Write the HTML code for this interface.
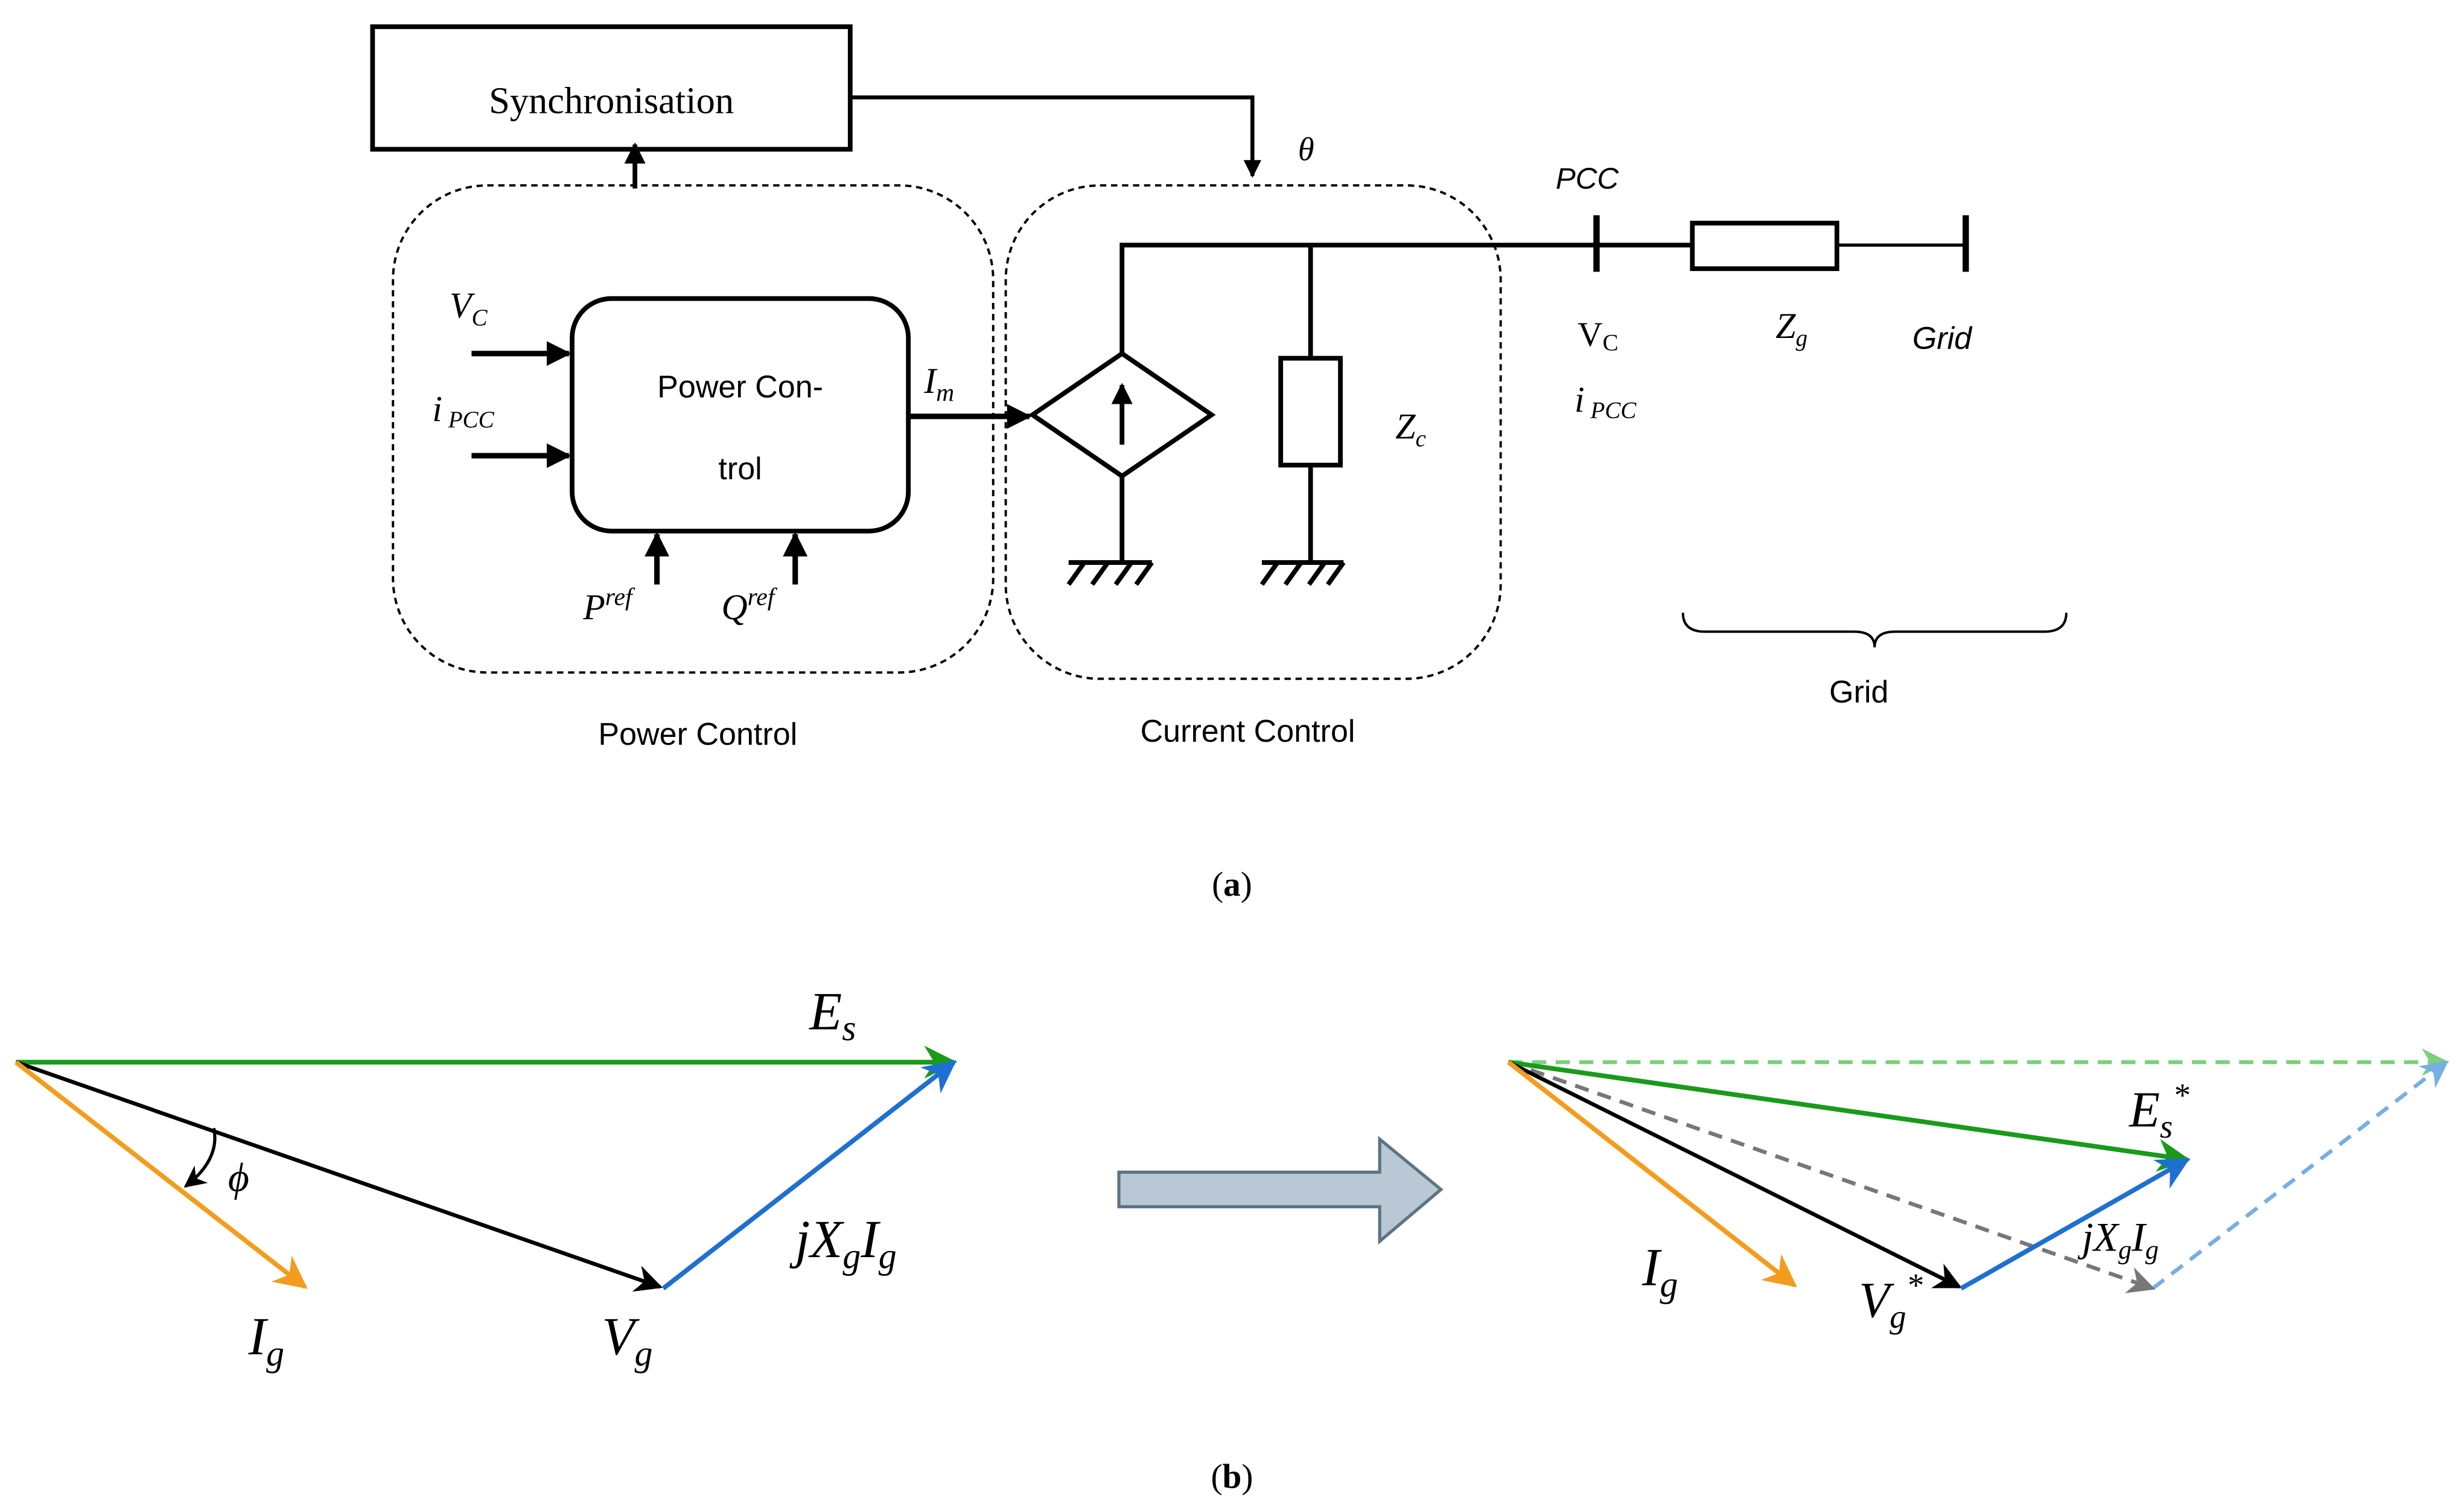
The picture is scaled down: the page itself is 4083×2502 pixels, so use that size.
<!DOCTYPE html>
<html><head><meta charset="utf-8"><style>
html,body{margin:0;padding:0;background:#fff}
svg{display:block}
.s{font-family:"Liberation Sans",sans-serif}
.r{font-family:"Liberation Serif",serif}
</style></head><body>
<svg width="4083" height="2502" viewBox="0 0 1568 961" xmlns="http://www.w3.org/2000/svg">
<defs>
<marker id="ab" viewBox="0 0 10 10" refX="9" refY="5" markerWidth="4.5" markerHeight="4.5" orient="auto"><path d="M0,0L10,5L0,10z" fill="#000"/></marker>
<marker id="vg" viewBox="0 0 10 10" refX="9" refY="5" markerWidth="7" markerHeight="7" orient="auto"><path d="M0,0L10,5L0,10L3,5z" fill="#1a9a1a"/></marker>
<marker id="vk" viewBox="0 0 10 10" refX="9" refY="5" markerWidth="7" markerHeight="7" orient="auto"><path d="M0,0L10,5L0,10L3,5z" fill="#000"/></marker>
<marker id="vo" viewBox="0 0 10 10" refX="9" refY="5" markerWidth="7" markerHeight="7" orient="auto"><path d="M0,0L10,5L0,10L3,5z" fill="#f39c1e"/></marker>
<marker id="vb" viewBox="0 0 10 10" refX="9" refY="5" markerWidth="7" markerHeight="7" orient="auto"><path d="M0,0L10,5L0,10L3,5z" fill="#1f6fd0"/></marker>
<marker id="vlg" viewBox="0 0 10 10" refX="9" refY="5" markerWidth="7" markerHeight="7" orient="auto"><path d="M0,0L10,5L0,10L3,5z" fill="#7ccf7c"/></marker>
<marker id="vlb" viewBox="0 0 10 10" refX="9" refY="5" markerWidth="7" markerHeight="7" orient="auto"><path d="M0,0L10,5L0,10L3,5z" fill="#78aee6"/></marker>
<marker id="vgr" viewBox="0 0 10 10" refX="9" refY="5" markerWidth="7" markerHeight="7" orient="auto"><path d="M0,0L10,5L0,10L3,5z" fill="#777"/></marker>
</defs>
<g fill="none" stroke="#000">
<rect x="237" y="17" width="304" height="78" stroke-width="3"/>
<polyline points="541,62 797,62 797,112" stroke-width="2.5" marker-end="url(#ab)"/>
<line x1="404" y1="120" x2="404" y2="92" stroke-width="3" marker-end="url(#ab)"/>
<rect x="250" y="118" width="382" height="310" rx="60" stroke-width="1.5" stroke-dasharray="4,3"/>
<rect x="640" y="118" width="315" height="314" rx="60" stroke-width="1.5" stroke-dasharray="4,3"/>
<rect x="364" y="190" width="214" height="148" rx="25" stroke-width="3"/>
<line x1="300" y1="225" x2="362" y2="225" stroke-width="3.5" marker-end="url(#ab)"/>
<line x1="300" y1="290" x2="362" y2="290" stroke-width="3.5" marker-end="url(#ab)"/>
<line x1="418" y1="372" x2="418" y2="340" stroke-width="3.5" marker-end="url(#ab)"/>
<line x1="506" y1="372" x2="506" y2="340" stroke-width="3.5" marker-end="url(#ab)"/>
<line x1="578" y1="265" x2="655" y2="265" stroke-width="3.5" marker-end="url(#ab)"/>
<polygon points="714,225 771,264 714,303 657,264" stroke-width="3"/>
<line x1="714" y1="283" x2="714" y2="245" stroke-width="3" marker-end="url(#ab)"/>
<polyline points="714,225 714,156 1077,156" stroke-width="3"/>
<line x1="834" y1="156" x2="834" y2="228" stroke-width="3"/>
<rect x="815" y="228" width="38" height="68" stroke-width="3"/>
<line x1="834" y1="296" x2="834" y2="358" stroke-width="3"/>
<line x1="714" y1="303" x2="714" y2="358" stroke-width="3"/>
<g stroke-width="3">
<line x1="680" y1="358" x2="733" y2="358"/><line x1="690" y1="358" x2="680" y2="372"/><line x1="705" y1="358" x2="695" y2="372"/><line x1="720" y1="358" x2="710" y2="372"/><line x1="733" y1="358" x2="723" y2="372"/>
<line x1="803" y1="358" x2="855" y2="358"/><line x1="813" y1="358" x2="803" y2="372"/><line x1="828" y1="358" x2="818" y2="372"/><line x1="843" y1="358" x2="833" y2="372"/><line x1="855" y1="358" x2="845" y2="372"/>
</g>
<line x1="1016" y1="137" x2="1016" y2="173" stroke-width="4"/>
<rect x="1077" y="142" width="92" height="29" stroke-width="3"/>
<line x1="1169" y1="156" x2="1251" y2="156" stroke-width="2"/>
<line x1="1251" y1="137" x2="1251" y2="173" stroke-width="4"/>
<path d="M1071,390 Q1071,402 1085,402 L1180,402 Q1193,402 1193,412 Q1193,402 1206,402 L1301,402 Q1315,402 1315,390" stroke-width="1.5"/>
</g>
<g fill="#000">
<text x="389" y="72" class="r" font-size="24" text-anchor="middle">Synchronisation</text>
<text x="826" y="102" class="r" font-size="21" font-style="italic">θ</text>
<text x="471" y="253" class="s" font-size="20" text-anchor="middle">Power Con-</text>
<text x="471" y="305" class="s" font-size="20" text-anchor="middle">trol</text>
<text x="286" y="202" class="r" font-size="23" font-style="italic">V<tspan font-size="15" dy="5">C</tspan></text>
<text x="275" y="268" class="r" font-size="23" font-style="italic">i<tspan font-size="15" dy="4"> PCC</tspan></text>
<text x="588" y="250" class="r" font-size="23" font-style="italic">I<tspan font-size="16" dy="5">m</tspan></text>
<text x="371" y="394" class="r" font-size="23" font-style="italic">P<tspan font-size="16" dy="-9">ref</tspan></text>
<text x="459" y="394" class="r" font-size="23" font-style="italic">Q<tspan font-size="16" dy="-9">ref</tspan></text>
<text x="888" y="279" class="r" font-size="23" font-style="italic">Z<tspan font-size="15" dy="5">c</tspan></text>
<text x="990" y="120" class="s" font-size="19" font-style="italic">PCC</text>
<text x="1004" y="220" class="r" font-size="22">V<tspan font-size="15" dy="3">C</tspan></text>
<text x="1002" y="262" class="r" font-size="23" font-style="italic">i<tspan font-size="15" dy="4"> PCC</tspan></text>
<text x="1130" y="215" class="r" font-size="23" font-style="italic">Z<tspan font-size="15" dy="5">g</tspan></text>
<text x="1217" y="222" class="s" font-size="20" font-style="italic">Grid</text>
<text x="1183" y="447" class="s" font-size="20" text-anchor="middle">Grid</text>
<text x="444" y="474" class="s" font-size="20" text-anchor="middle">Power Control</text>
<text x="794" y="472" class="s" font-size="20" text-anchor="middle">Current Control</text>
<text x="784" y="570" class="r" font-size="22" text-anchor="middle">(<tspan font-weight="bold">a</tspan>)</text>
<text x="784" y="947" class="r" font-size="22" text-anchor="middle">(<tspan font-weight="bold">b</tspan>)</text>
</g>
<g fill="none" stroke-width="3">
<line x1="10" y1="676" x2="607" y2="676" stroke="#1a9a1a" marker-end="url(#vg)"/>
<line x1="10" y1="676" x2="420" y2="819" stroke="#000" stroke-width="2.5" marker-end="url(#vk)"/>
<line x1="10" y1="676" x2="194" y2="819" stroke="#f39c1e" marker-end="url(#vo)"/>
<line x1="422" y1="820" x2="607" y2="676" stroke="#1f6fd0" marker-end="url(#vb)"/>
<path d="M136,718 Q140,738 118,755" stroke="#000" stroke-width="2" marker-end="url(#vk)"/>
</g>
<g fill="#000" class="r" font-style="italic">
<text x="515" y="655" font-size="34">E<tspan font-size="23" dy="7">s</tspan></text>
<text x="145" y="758" font-size="26">ϕ</text>
<text x="158" y="862" font-size="34">I<tspan font-size="23" dy="7">g</tspan></text>
<text x="383" y="862" font-size="34">V<tspan font-size="23" dy="7">g</tspan></text>
<text x="506" y="800" font-size="34">jX<tspan font-size="23" dy="7">g</tspan><tspan dy="-7">I</tspan><tspan font-size="23" dy="7">g</tspan></text>
</g>
<polygon points="712,746 878,746 878,725 917,757 878,790 878,768 712,768" fill="#b9c8d4" stroke="#5e7384" stroke-width="2"/>
<g fill="none" stroke-width="2.5">
<line x1="960" y1="676" x2="1557" y2="676" stroke="#7ccf7c" stroke-dasharray="9,6" marker-end="url(#vlg)"/>
<line x1="1370" y1="820" x2="1557" y2="676" stroke="#78aee6" stroke-dasharray="9,6" marker-end="url(#vlb)"/>
<line x1="960" y1="676" x2="1370" y2="820" stroke="#777" stroke-dasharray="9,6" marker-end="url(#vgr)"/>
<line x1="960" y1="676" x2="1392" y2="738" stroke="#1a9a1a" stroke-width="3" marker-end="url(#vg)"/>
<line x1="960" y1="676" x2="1247" y2="819" stroke="#000" marker-end="url(#vk)"/>
<line x1="960" y1="676" x2="1142" y2="818" stroke="#f39c1e" stroke-width="3" marker-end="url(#vo)"/>
<line x1="1248" y1="820" x2="1392" y2="738" stroke="#1f6fd0" stroke-width="3" marker-end="url(#vb)"/>
</g>
<g fill="#000" class="r" font-style="italic">
<text x="1355" y="717" font-size="32">E<tspan font-size="21" dy="7">s</tspan><tspan font-size="21" dy="-20">*</tspan></text>
<text x="1045" y="818" font-size="34">I<tspan font-size="23" dy="7">g</tspan></text>
<text x="1183" y="838" font-size="32">V<tspan font-size="21" dy="7">g</tspan><tspan font-size="21" dy="-20">*</tspan></text>
<text x="1325" y="796" font-size="26">jX<tspan font-size="17" dy="5">g</tspan><tspan dy="-5">I</tspan><tspan font-size="17" dy="5">g</tspan></text>
</g>
</svg>
</body></html>
